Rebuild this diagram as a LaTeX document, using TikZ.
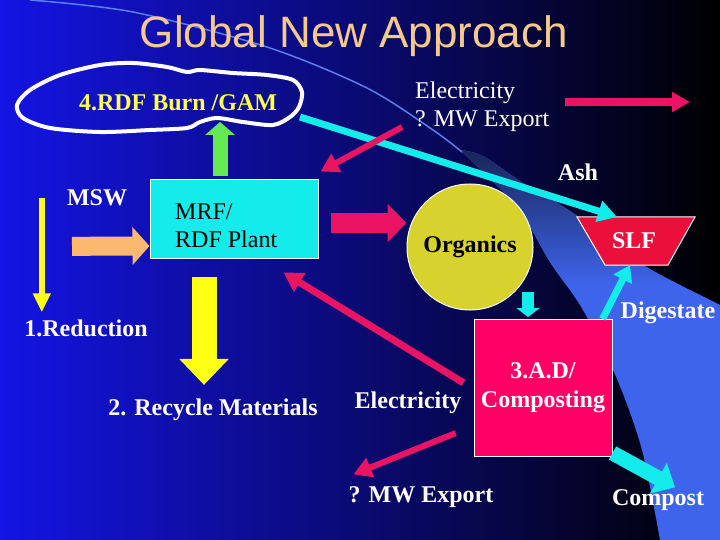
\documentclass[tikz,border=0pt]{standalone}
\usepackage{fontspec}
\setmainfont{Liberation Serif}
\newfontfamily\titlefont{Liberation Sans}
\usetikzlibrary{arrows.meta}
\definecolor{bgleft}{RGB}{20,20,228}
\definecolor{bgmid}{RGB}{10,10,190}
\definecolor{bandblue}{RGB}{62,100,235}
\definecolor{arcblue}{RGB}{90,125,240}
\definecolor{titlepeach}{RGB}{245,200,140}
\definecolor{burnyellow}{RGB}{255,255,80}
\definecolor{arrowgreen}{RGB}{100,235,80}
\definecolor{arrowred}{RGB}{235,20,100}
\definecolor{arrowcyan}{RGB}{20,235,235}
\definecolor{arrowpeach}{RGB}{250,185,110}
\definecolor{arrowyellow}{RGB}{255,255,20}
\definecolor{orgyellow}{RGB}{215,210,45}
\definecolor{slfred}{RGB}{235,15,60}
\definecolor{adpink}{RGB}{255,0,100}
\begin{document}
\begin{tikzpicture}[x=1pt,y=-1pt,
  lbl/.style={text=white,font=\fontsize{24}{29}\selectfont\bfseries,inner sep=2pt},
  plain/.style={font=\fontsize{24}{28}\selectfont,inner sep=2pt},
  box/.style={draw=white,line width=1,inner sep=0pt},
  thinarrow/.style={line width=7,-{Triangle[width=21pt,length=19pt]}}]
% fond
\useasboundingbox (0,0) rectangle (720,540);
\shade[left color=bgleft, middle color=bgmid, right color=black] (0,0) rectangle (720,540);
\begin{scope}
\clip plot[smooth] coordinates {(460,150) (517,207) (550,262) (583,310) (617,379) (642,450) (660,540)}
  -- (720,540) -- (720,305)
  -- plot[smooth] coordinates {(690,290) (640,263) (573,213) (523,183) (483,156) (460,150)} -- cycle;
\fill[bandblue] (440,140) rectangle (720,540);
\shade[top color=bandblue!35!black, bottom color=bandblue] (440,145) rectangle (720,285);
\end{scope}
\draw[arcblue, line width=1.5] plot[smooth] coordinates {(30,0) (133,12) (267,47) (367,88) (433,130) (462,152)};
% titre
\node[font=\titlefont\fontsize{44}{48}\selectfont, text=titlepeach, anchor=base] (title) at (354,48) {Global New Approach};
% nuage
\draw[white, line width=4] plot[smooth cycle] coordinates {(17,105) (30,90) (60,75) (100,65) (133,63) (167,67) (187,72) (200,70) (233,73) (267,75) (293,80) (302,92) (299,107) (290,117) (273,125) (243,122) (217,118) (200,122) (187,128) (150,130) (100,132) (50,128) (23,118)};
\node[lbl, text=burnyellow] (burn) at (178,103) {4.RDF Burn /GAM};
\coordinate (rimR) at (300,117);
\coordinate (rimB) at (220,122);
% boites
\node[box, fill=arrowcyan, minimum width=168, minimum height=78] (mrf) at (234,219) {};
\node[plain, align=left, anchor=west] (mrftxt) at (173,226) {MRF/\\RDF Plant};
\node[circle, fill=orgyellow, draw=white, line width=1, minimum size=126, inner sep=0pt, lbl, text=black] (org) at (470,247) {Organics};
\filldraw[fill=slfred, draw=white, line width=1] (577,217) -- (695,217) -- (668,265) -- (605,265) -- cycle;
\node[lbl] (slf) at (634,241) {SLF};
\coordinate (slftop) at (617,217);
\coordinate (slfbot) at (630,265);
\node[box, fill=adpink, minimum width=138, minimum height=137, lbl, align=center] (ad) at (543,388) {3.A.D/\\Composting};
% textes
\node[plain, text=white, align=left, anchor=west] (elec) at (413,107) {Electricity\\? MW Export};
\coordinate (expend) at (690,102);
\node[lbl] (ash) at (578,172) {Ash};
\node[lbl] (msw) at (97,198) {MSW};
\node[lbl] (reduction) at (86,328) {1.Reduction};
\node[lbl] (recycle) at (213,410) {2. Recycle Materials};
\node[lbl] (digest) at (668,313) {Digestate};
\node[lbl] (elec2) at (408,403) {Electricity};
\node[lbl] (mwx) at (421,497) {? MW Export};
\node[lbl] (compost) at (658,500) {Compost};
% fleches
\draw[arrowpeach, line width=19, -{Triangle[width=37pt,length=17pt]}] ([xshift=-25pt,yshift=-38pt]msw.south) -- ([yshift=-27pt]mrf.west);
\draw[arrowred, line width=19, -{Triangle[width=37pt,length=19pt]}, shorten <=12] ([yshift=-4pt]mrf.east) -- ([yshift=-4pt]mrf.east -| org.west);
\draw[arrowyellow, line width=25, -{Triangle[width=48pt,length=26pt]}, shorten <=18, shorten >=12] ([xshift=-30pt]mrf.south) -- ([xshift=-30pt]mrf.south |- recycle.north);
\draw[arrowgreen, line width=15, -{Triangle[width=29pt,length=13pt]}, shorten <=3] ([xshift=-14pt]mrf.north) -- (rimB);
\draw[arrowcyan, thinarrow] (rimR) -- (slftop);
\draw[arrowred, line width=6, -{Triangle[width=20pt,length=18pt]}] ([xshift=-11pt,yshift=7pt]elec.south west) -- ([xshift=2pt,yshift=8pt]mrf.north east);
\draw[arrowred, line width=8, -{Triangle[width=19pt,length=18pt]}] ([xshift=14pt,yshift=5pt]elec.east) -- (expend);
\draw[arrowred, thinarrow] ([yshift=7pt]elec2.north east) -- ([xshift=-35pt,yshift=-14pt]mrf.south east);
\draw[arrowred, line width=6, -{Triangle[width=20pt,length=18pt]}] ([xshift=-8pt,yshift=-17pt]elec2.south east) -- ([xshift=7pt,yshift=10pt]mwx.north west);
\draw[arrowyellow, line width=6, -{Triangle[width=17pt,length=19pt]}, shorten >=5] ([xshift=-23pt]msw.west) -- ([xshift=-23pt]msw.west |- reduction.north);
\draw[arrowcyan, line width=12, -{Triangle[width=23pt,length=9pt]}, shorten >=2] ([xshift=-15pt]ad.north |- org.south east) -- ([xshift=-15pt]ad.north);
\draw[arrowcyan, line width=7, -{Triangle[width=20pt,length=16pt]}] ([xshift=-10pt]ad.north east) -- (slfbot);
\draw[arrowcyan, line width=15, -{Triangle[width=34pt,length=19pt]}] ([yshift=4pt]ad.south east) -- ([xshift=17pt]compost.north);
\end{tikzpicture}
\end{document}
